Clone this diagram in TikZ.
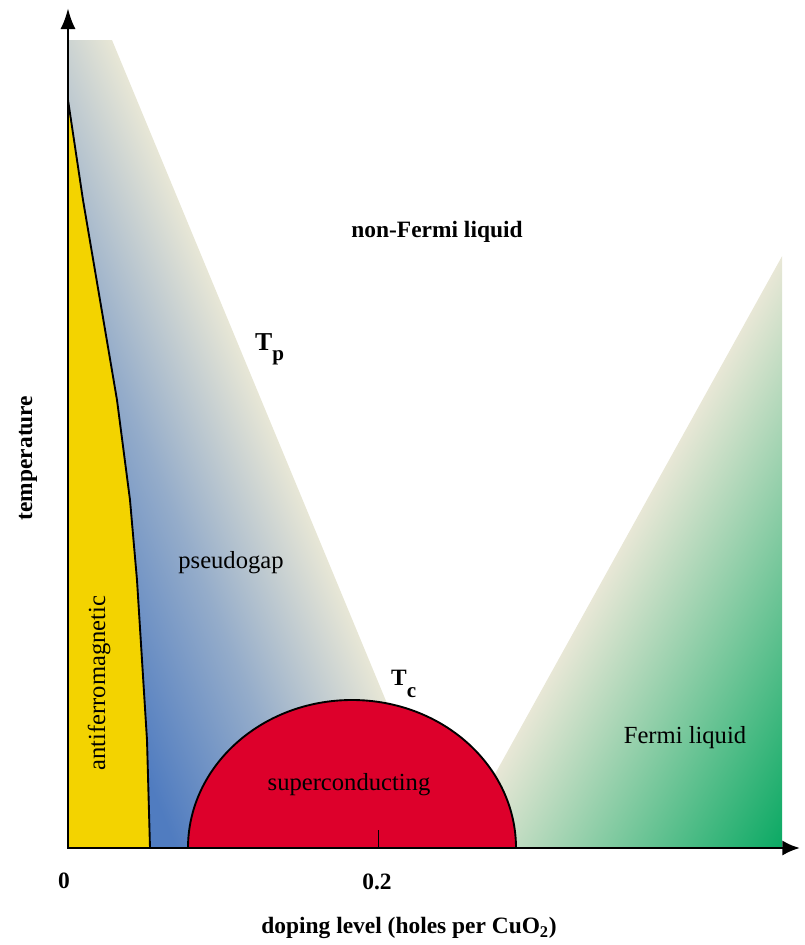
\documentclass[tikz,border=0pt]{standalone}
\usepackage{fontspec}
\setmainfont{Liberation Serif}
\usetikzlibrary{arrows.meta}

\definecolor{pgblue}{RGB}{80,124,192}
\definecolor{pgbeige}{RGB}{232,231,214}
\definecolor{flgreen}{RGB}{0,166,94}
\definecolor{afyellow}{RGB}{243,211,0}
\definecolor{scred}{RGB}{221,0,43}

\begin{document}
\begin{tikzpicture}[
  x=0.3mm, y=-0.3mm,
  axis/.style={line width=2.5pt, {Latex[length=18pt,width=13pt]}-{Latex[length=15pt,width=13pt]}},
  phase/.style={font=\fontsize{21}{24}\selectfont},
  axislabel/.style={font=\fontsize{20}{24}\selectfont\bfseries},
  tlabel/.style={font=\fontsize{22}{24}\selectfont\bfseries, anchor=base west, inner sep=0pt},
]
  \useasboundingbox (0,0) rectangle (805,945);

  % Pseudogap wedge
  \fill[pgblue] (68,560) -- (220,848) -- (68,848) -- cycle;
  \begin{scope}
    \clip (68,40) -- (112,40) -- (447,848) -- (68,848) -- cycle;
    \shade[left color=pgblue, right color=pgbeige, middle color=pgblue!55!pgbeige,
      transform canvas={rotate around={22.5:(447,848)}}]
      (197,-400) rectangle (447,1400);
  \end{scope}

  % Fermi liquid wedge
  \begin{scope}
    \clip (782,256) -- (782,848) -- (454,848) -- cycle;
    \shade[left color=pgbeige, right color=flgreen,
      transform canvas={rotate around={-29:(454,848)}}]
      (454,-400) rectangle (754,1400);
  \end{scope}

  % Antiferromagnetic region
  \fill[afyellow] (68,100) -- (83,200) -- (100,300) -- (117,400) -- (130,500)
    -- (137,580) -- (142,660) -- (147,740) -- (150,848) -- (68,848) -- cycle;
  \draw[line width=1.6pt] (68,100) -- (83,200) -- (100,300) -- (117,400) -- (130,500)
    -- (137,580) -- (142,660) -- (147,740) -- (150,848);

  % Superconducting dome
  \filldraw[fill=scred, line width=1.6pt]
    (188,848) arc[start angle=180, end angle=360, x radius=164, y radius=148];
  \draw[line width=0.8pt] (378,848) -- (378,830);

  % Axes
  \coordinate (origin) at (68,848);
  \coordinate (ytip) at (68,8);
  \coordinate (xtip) at (800,848);
  \draw[axis] (ytip) -- (origin) -- (xtip);

  % Labels
  \node[phase, font=\fontsize{20}{24}\selectfont\bfseries] (nfl) at (437,232) {non-Fermi liquid};
  \node[tlabel] (tp) at (255,350) {T\raisebox{-9pt}{\fontsize{18}{20}\selectfont p}};
  \node[tlabel, font=\fontsize{20}{24}\selectfont\bfseries] (tc) at (391,685) {T\raisebox{-11pt}{\fontsize{18}{20}\selectfont c}};
  \node[phase] (pg) at (231,563) {pseudogap};
  \node[phase] (sc) at (349,785) {superconducting};
  \node[phase] (fl) at (685,738) {Fermi liquid};
  \node[phase, rotate=90] (af) at (99,683) {antiferromagnetic};
  \node[axislabel, rotate=90] (temp) at (28,458) {temperature};
  \node[axislabel] (zero) at (64,881) {0};
  \node[axislabel] (tick) at (377,882) {0.2};
  \node[axislabel] (dop) at (409,928) {doping level (holes per CuO\textsubscript{2})};

\end{tikzpicture}
\end{document}
